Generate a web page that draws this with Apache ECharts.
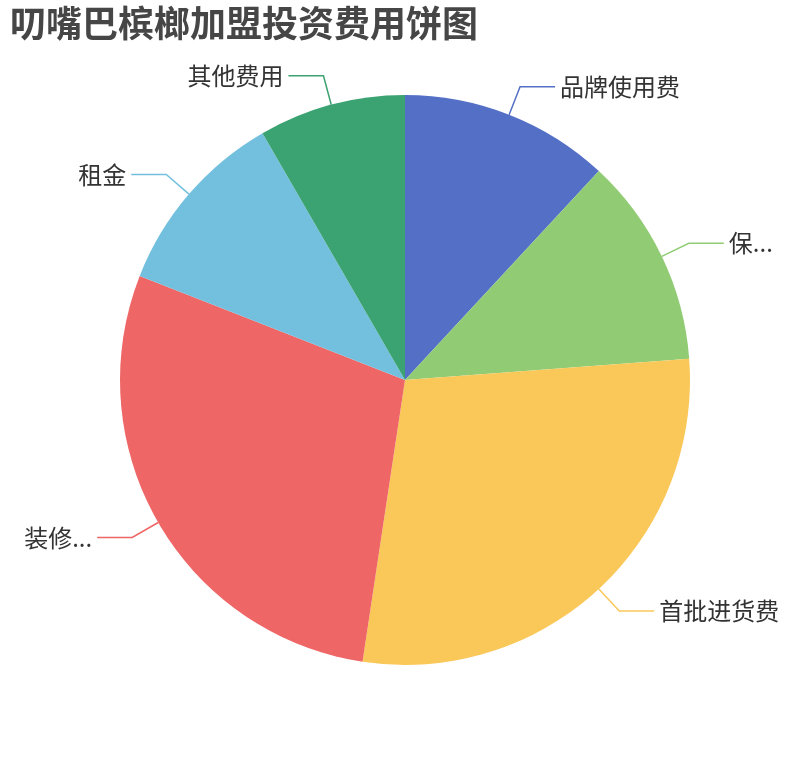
<!DOCTYPE html>
<html>
<head>
<meta charset="utf-8">
<script src="https://cdn.jsdelivr.net/npm/echarts@6/dist/echarts.min.js"></script>
<style>
html,body{margin:0;padding:0;background:#fff;}
#chart{width:810px;height:760px;}
</style>
</head>
<body>
<div id="chart"></div>
<script>
const titleText = '叨嘴巴槟榔加盟投资费用饼图';
const categories = ['品牌使用费', '保证金', '首批进货费', '装修费用', '租金', '其他费用'];
const values = [5, 5, 12, 12, 4.5, 3.5];
const colors = ['#5470c6', '#91cc75', '#fac858', '#ee6666', '#73c0de', '#3ba272'];

const chart = echarts.init(document.getElementById('chart'));
chart.setOption({
  animation: false,
  color: colors,
  title: {
    text: titleText,
    left: 5,
    top: 0,
    textStyle: { fontSize: 36, fontWeight: 'bold', color: '#464646', fontFamily: 'Noto Sans CJK SC' }
  },
  series: [{
    type: 'pie',
    radius: '75%',
    center: ['50%', '50%'],
    startAngle: 90,
    label: { fontSize: 24, color: '#333', fontFamily: 'Noto Sans CJK SC' },
    labelLine: { length: 30, length2: 35, lineStyle: { width: 1.5 } },
    data: categories.map((c, i) => ({
      name: c,
      value: values[i],
      label: c === '保证金' ? { width: 50, overflow: 'truncate' } : undefined
    }))
  }]
});
</script>
</body>
</html>
